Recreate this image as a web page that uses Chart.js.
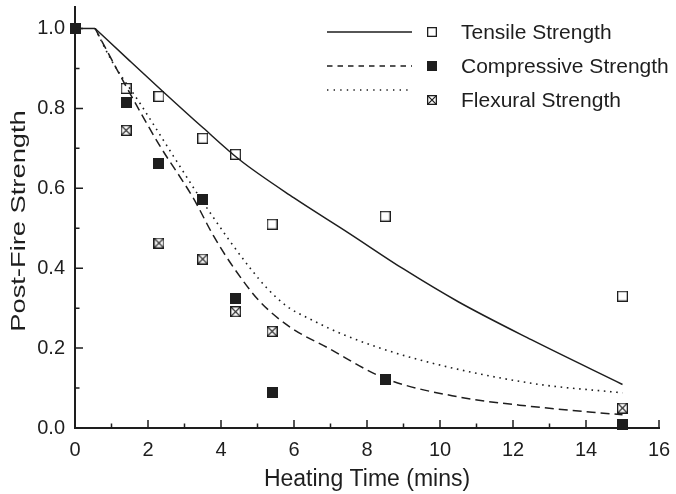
<!DOCTYPE html>
<html>
<head>
<meta charset="utf-8">
<script src="https://cdn.jsdelivr.net/npm/chart.js@4.4.1/dist/chart.umd.min.js"></script>
<style>
  html, body { margin: 0; padding: 0; background: #ffffff; }
  #wrap { width: 676px; height: 494px; position: relative; }
</style>
</head>
<body>
<div id="wrap"><canvas id="c" width="676" height="494"></canvas></div>
<script>
// ---------- data ----------
const seriesNames = ['Tensile Strength', 'Compressive Strength', 'Flexural Strength'];
const xTitle = 'Heating Time (mins)';
const yTitle = 'Post-Fire Strength';

// measured points
const tensileX = [0, 1.4, 2.3, 3.5, 4.4, 5.4, 8.5, 15];
const tensileY = [1.0, 0.85, 0.83, 0.725, 0.685, 0.51, 0.53, 0.33];
const compressiveX = [0, 1.4, 2.3, 3.5, 4.4, 5.4, 8.5, 15];
const compressiveY = [1.0, 0.815, 0.663, 0.573, 0.323, 0.09, 0.122, 0.008];
const flexuralX = [0, 1.4, 2.3, 3.5, 4.4, 5.4, 15];
const flexuralY = [1.0, 0.745, 0.463, 0.423, 0.291, 0.242, 0.05];

// common plateau of the fitted curves
const plateauX = [0, 0.55];
const plateauY = [1.0, 1.0];
// fitted curves after the plateau
const tensileFitX = [0.55, 1.5, 2.4, 3.5, 4.5, 6.0, 7.5, 9.0, 10.5, 12.5, 15];
const tensileFitY = [1.0, 0.919, 0.843, 0.752, 0.672, 0.576, 0.488, 0.398, 0.316, 0.221, 0.109];
const compressiveFitX = [0.55, 1.4, 2.3, 3.25, 3.8, 4.35, 5.05, 5.9, 6.9, 8.5, 10.5, 12.5, 15];
const compressiveFitY = [1.0, 0.855, 0.71, 0.574, 0.48, 0.401, 0.318, 0.252, 0.202, 0.124, 0.078, 0.054, 0.033];
const flexuralFitX = [0.55, 1.0, 1.8, 2.7, 3.4, 4.25, 4.8, 5.25, 5.8, 6.5, 7.4, 9.3, 12.5, 15];
const flexuralFitY = [1.0, 0.92, 0.81, 0.68, 0.58, 0.467, 0.40, 0.351, 0.305, 0.27, 0.232, 0.174, 0.112, 0.088];

// axis ticks
const xTicks = [0, 2, 4, 6, 8, 10, 12, 14, 16];
const xMinorTicks = [1, 3, 5, 7, 9, 11, 13, 15];
const yTicks = [0.0, 0.2, 0.4, 0.6, 0.8, 1.0];
const yMinorTicks = [0.1, 0.3, 0.5, 0.7, 0.9];
const xMin = 0, xMax = 16, yMin = 0, yMax = 1.055;

// ---------- helpers ----------
const INK = '#1e1e1e';
const FONT = "'Liberation Sans', Arial, sans-serif";

function zip(xs, ys) { return xs.map((x, i) => ({ x: x, y: ys[i] })); }

function makeMarker(kind, size) {
  const c = document.createElement('canvas');
  c.width = size; c.height = size;
  const g = c.getContext('2d');
  const lw = 1.3;
  const o = lw / 2;
  if (kind === 'filled') {
    g.fillStyle = INK;
    g.fillRect(0, 0, size, size);
  } else {
    g.strokeStyle = INK;
    g.lineWidth = lw;
    g.strokeRect(o, o, size - lw, size - lw);
    if (kind === 'crossed') {
      g.beginPath();
      g.moveTo(o, o); g.lineTo(size - o, size - o);
      g.moveTo(size - o, o); g.lineTo(o, size - o);
      g.stroke();
    }
  }
  return c;
}

const mOpen = makeMarker('open', 11), mFilled = makeMarker('filled', 11), mCross = makeMarker('crossed', 11);
const lOpen = makeMarker('open', 10), lFilled = makeMarker('filled', 10), lCross = makeMarker('crossed', 10);

const dashStyles = [[], [9, 5], [1.6, 4.6]];

// ---------- plugins ----------
const inwardTicks = {
  id: 'inwardTicks',
  afterDraw(chart) {
    const ctx = chart.ctx;
    const xs = chart.scales.x, ys = chart.scales.y;
    const a = chart.chartArea;
    ctx.save();
    ctx.strokeStyle = INK;
    ctx.lineWidth = 1.5;
    ctx.setLineDash([]);
    ctx.beginPath();
    xTicks.forEach(v => { const px = xs.getPixelForValue(v); ctx.moveTo(px, a.bottom); ctx.lineTo(px, a.bottom - 8); });
    xMinorTicks.forEach(v => { const px = xs.getPixelForValue(v); ctx.moveTo(px, a.bottom); ctx.lineTo(px, a.bottom - 4.5); });
    yTicks.forEach(v => { const py = ys.getPixelForValue(v); ctx.moveTo(a.left, py); ctx.lineTo(a.left + 8, py); });
    yMinorTicks.forEach(v => { const py = ys.getPixelForValue(v); ctx.moveTo(a.left, py); ctx.lineTo(a.left + 4.5, py); });
    ctx.stroke();
    ctx.restore();
  }
};

const yTitlePlugin = {
  id: 'yTitlePlugin',
  afterDraw(chart) {
    const ctx = chart.ctx;
    ctx.save();
    ctx.translate(19, 221);
    ctx.rotate(-Math.PI / 2);
    ctx.scale(1.3, 1);
    ctx.fillStyle = INK;
    ctx.font = '21px ' + FONT;
    ctx.textAlign = 'center';
    ctx.textBaseline = 'middle';
    ctx.fillText(yTitle, 0, 0);
    ctx.restore();
  }
};

const customLegend = {
  id: 'customLegend',
  afterDraw(chart) {
    const ctx = chart.ctx;
    const rows = [
      { y: 32, lineY: 32, dash: dashStyles[0], img: lOpen, lw: 1.5 },
      { y: 66, lineY: 66, dash: [5.5, 5], img: lFilled, lw: 1.3 },
      { y: 100, lineY: 90, dash: [1.4, 5.2], img: lCross, lw: 1.4 }
    ];
    ctx.save();
    rows.forEach((r, i) => {
      ctx.strokeStyle = INK;
      ctx.lineWidth = r.lw;
      ctx.setLineDash(r.dash);
      ctx.beginPath();
      ctx.moveTo(327, r.lineY);
      ctx.lineTo(412, r.lineY);
      ctx.stroke();
      ctx.setLineDash([]);
      ctx.drawImage(r.img, 432 - r.img.width / 2, r.y - r.img.height / 2);
      ctx.fillStyle = INK;
      ctx.font = '21px ' + FONT;
      ctx.textAlign = 'left';
      ctx.textBaseline = 'middle';
      ctx.fillText(seriesNames[i], 461, r.y + 1);
    });
    ctx.restore();
  }
};

// ---------- chart ----------
Chart.defaults.color = INK;
Chart.defaults.font.family = FONT;

function fitLine(label, xs, ys, dash, width) {
  return { label: label, data: zip(xs, ys), showLine: true, pointRadius: 0, borderColor: INK,
           borderWidth: width, borderDash: dash, cubicInterpolationMode: 'monotone', order: 5, clip: false };
}

const ctx = document.getElementById('c').getContext('2d');
new Chart(ctx, {
  type: 'scatter',
  data: {
    datasets: [
      { label: seriesNames[0], data: zip(tensileX, tensileY), pointStyle: mOpen, pointRadius: 5.5, showLine: false, order: 1, clip: false },
      { label: seriesNames[1], data: zip(compressiveX, compressiveY), pointStyle: mFilled, pointRadius: 5.5, showLine: false, order: 0, clip: false },
      { label: seriesNames[2], data: zip(flexuralX, flexuralY), pointStyle: mCross, pointRadius: 5.5, showLine: false, order: 2, clip: false },
      fitLine('plateau', plateauX, plateauY, [], 1.5),
      fitLine('tensile fit', tensileFitX, tensileFitY, dashStyles[0], 1.5),
      fitLine('compressive fit', compressiveFitX, compressiveFitY, dashStyles[1], 1.5),
      fitLine('flexural fit', flexuralFitX, flexuralFitY, dashStyles[2], 1.6)
    ]
  },
  options: {
    responsive: false,
    animation: false,
    devicePixelRatio: 1,
    layout: { padding: { top: 3, right: 17, left: 0, bottom: 0 } },
    plugins: { legend: { display: false }, tooltip: { enabled: false } },
    scales: {
      x: {
        type: 'linear', min: xMin, max: xMax,
        afterBuildTicks(s) { s.ticks = xTicks.map(v => ({ value: v })); },
        afterFit(s) { s.height = 66; s.paddingLeft = 0; s.paddingRight = 0; },
        grid: { display: false, drawTicks: false },
        border: { display: true, color: INK, width: 2 },
        ticks: { font: { size: 20 }, padding: 10, color: INK, maxRotation: 0, callback: v => String(v) },
        title: { display: true, text: xTitle, font: { size: 23 }, padding: { top: 0, bottom: 1 }, color: INK }
      },
      y: {
        type: 'linear', min: yMin, max: yMax,
        afterBuildTicks(s) { s.ticks = yTicks.map(v => ({ value: v })); },
        afterFit(s) { s.width = 75; s.paddingTop = 0; s.paddingBottom = 0; },
        grid: { display: false, drawTicks: false },
        border: { display: true, color: INK, width: 2 },
        ticks: { font: { size: 20 }, padding: 10, color: INK, callback: v => Number(v).toFixed(1) },
        title: { display: false }
      }
    }
  },
  plugins: [inwardTicks, yTitlePlugin, customLegend]
});
</script>
</body>
</html>
